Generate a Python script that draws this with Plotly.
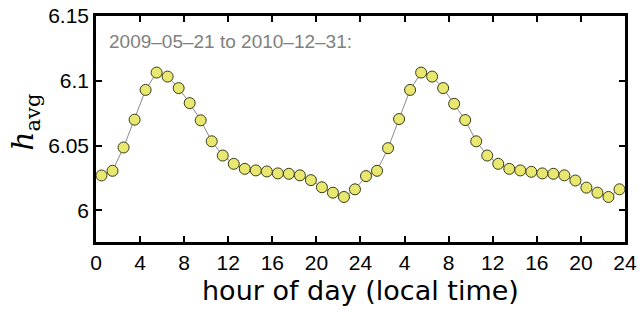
import plotly.graph_objects as go

# hour positions (bin centres) over two displayed days
hours = [h + 0.5 for h in range(48)]
h_avg = [
    6.0269, 6.0305, 6.0485, 6.0700, 6.0930, 6.1064, 6.1033, 6.0944,
    6.0828, 6.0695, 6.0533, 6.0423, 6.0359, 6.0320, 6.0308, 6.0300,
    6.0285, 6.0282, 6.0270, 6.0233, 6.0178, 6.0136, 6.0103, 6.0162,
    6.0264, 6.0305, 6.0480, 6.0705, 6.0930, 6.1064, 6.1033, 6.0944,
    6.0823, 6.0697, 6.0533, 6.0423, 6.0359, 6.0320, 6.0308, 6.0297,
    6.0285, 6.0282, 6.0270, 6.0230, 6.0175, 6.0136, 6.0103, 6.0162,
]
x_tick_vals = [0, 4, 8, 12, 16, 20, 24, 28, 32, 36, 40, 44, 48]
x_tick_text = ["0", "4", "8", "12", "16", "20", "24", "4", "8", "12", "16", "20", "24"]
y_tick_vals = [6.0, 6.05, 6.1, 6.15]
y_tick_text = ["6", "6.05", "6.1", "6.15"]
note = "2009\u201305\u201321 to 2010\u201312\u201331:"
x_title = "hour of day (local time)"
y_title = "<i>h</i><sub>avg</sub>"

fig = go.Figure()
fig.add_trace(go.Scatter(
    x=hours, y=h_avg, mode="lines+markers",
    line=dict(color="#8a8a8a", width=1),
    marker=dict(size=11, color="#e8e870", line=dict(color="#3a3a1a", width=1)),
    showlegend=False,
))

axis_common = dict(
    showline=True, mirror="ticks", linecolor="black", linewidth=2.5,
    ticks="inside", ticklen=6, tickwidth=2, tickcolor="black",
    showgrid=False, zeroline=False, automargin=False,
    ticklabeloverflow="allow",
    tickfont=dict(family="Liberation Sans, Arial, sans-serif", size=21, color="black"),
)

fig.update_layout(
    width=640, height=312,
    margin=dict(l=96, r=15, t=16, b=70),
    paper_bgcolor="white", plot_bgcolor="white",
    xaxis=dict(range=[0, 48.001], tickmode="array", tickvals=x_tick_vals,
               ticktext=x_tick_text, **axis_common),
    yaxis=dict(range=[5.9755, 6.1501], tickmode="array", tickvals=y_tick_vals,
               ticktext=y_tick_text, **axis_common),
    annotations=[
        dict(text=note, xref="paper", yref="paper", x=0.02, y=0.885,
             xanchor="left", yanchor="middle", showarrow=False,
             font=dict(family="Liberation Sans, Arial, sans-serif", size=19, color="#808080")),
        dict(text=x_title, xref="paper", yref="paper", x=0.5, y=-0.215,
             xanchor="center", yanchor="middle", showarrow=False,
             font=dict(family="DejaVu Sans, sans-serif", size=27, color="black")),
        dict(text=y_title, xref="paper", yref="paper", x=-0.135, y=0.53,
             xanchor="center", yanchor="middle", showarrow=False, textangle=-90,
             font=dict(family="DejaVu Serif, serif", size=30, color="black")),
    ],
)

# remove the default 8px body margin so the 640x312 figure fills the window
fig.write_html("out.html", config={"displayModeBar": False},
               post_script="document.body.style.margin='0';")
